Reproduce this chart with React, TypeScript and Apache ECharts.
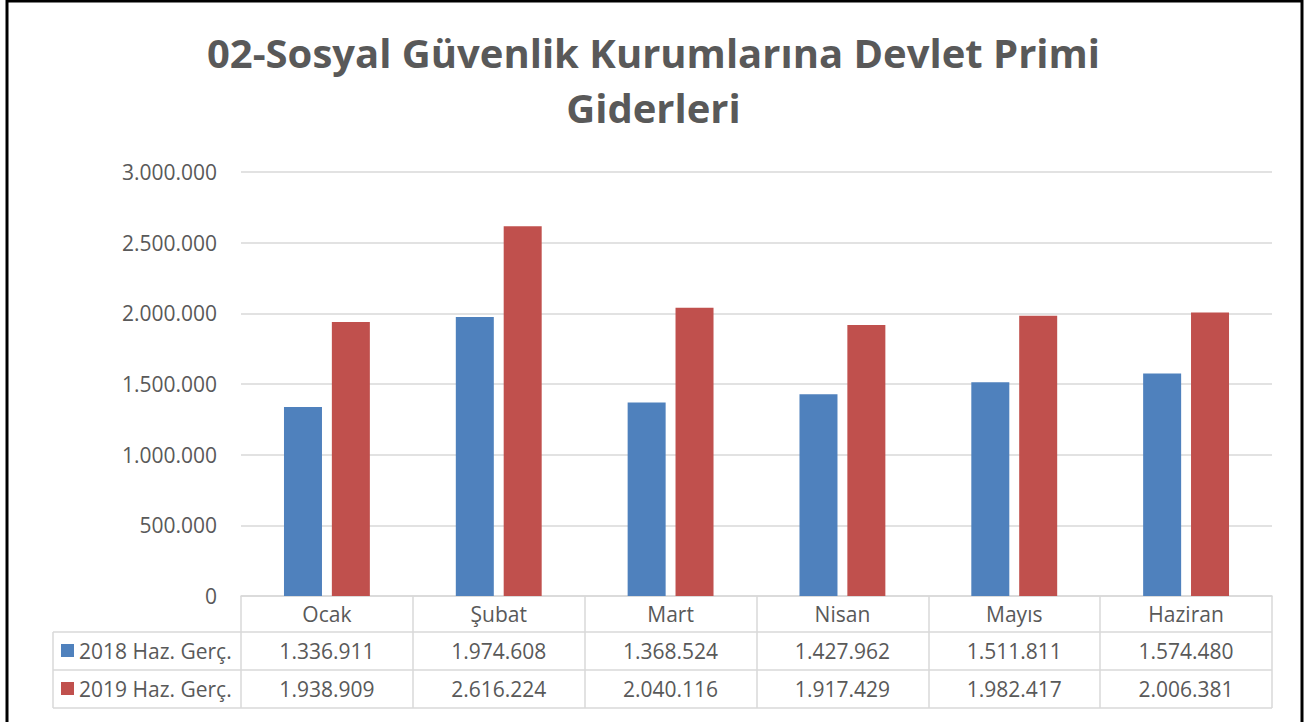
import React, { useEffect, useRef } from "react";
import * as echarts from "echarts";

const categories = ["Ocak", "Şubat", "Mart", "Nisan", "Mayıs", "Haziran"];
const series2018 = [1336911, 1974608, 1368524, 1427962, 1511811, 1574480];
const series2019 = [1938909, 2616224, 2040116, 1917429, 1982417, 2006381];
const seriesNames = ["2018 Haz. Gerç.", "2019 Haz. Gerç."];
const titleText = "02-Sosyal Güvenlik Kurumlarına Devlet Primi\nGiderleri";

const fmt = (n: number) => String(n).replace(/\B(?=(\d{3})+(?!\d))/g, ".");

const TEXT = "#595959";
const LINE = "#d9d9d9";
const FONT = "'Open Sans', 'Noto Sans', sans-serif";

export default function App() {
  const ref = useRef<HTMLDivElement>(null);
  useEffect(() => {
    if (!ref.current) return;
    const chart = echarts.init(ref.current, undefined, { renderer: "svg" });
    const labelStyle = { color: TEXT, fontSize: 21, fontFamily: FONT };
    const option: any = {
      animation: false,
      backgroundColor: "#ffffff",
      textStyle: { fontFamily: FONT },
      title: {
        text: titleText,
        left: "center",
        top: 20,
        textStyle: { color: TEXT, fontSize: 40, fontWeight: "bold", lineHeight: 55, fontFamily: FONT },
      },
      legend: {
        orient: "vertical",
        left: 61,
        top: 638,
        padding: 0,
        itemWidth: 13,
        itemHeight: 13,
        itemGap: 13,
        icon: "rect",
        textStyle: { color: TEXT, fontSize: 21, lineHeight: 25, fontFamily: FONT },
        data: seriesNames,
      },
      grid: { left: 241, right: 35, top: 172, bottom: 126 },
      xAxis: [
        {
          type: "category",
          data: categories,
          position: "bottom",
          axisLine: { show: true, lineStyle: { color: LINE, width: 1.5 } },
          axisTick: { show: true, length: 112, interval: 0, lineStyle: { color: LINE, width: 1.5 } },
          axisLabel: { ...labelStyle, margin: 7, interval: 0 },
        },
        {
          type: "category",
          data: series2018.map(fmt),
          position: "bottom",
          offset: 36,
          axisLine: { show: false },
          axisTick: { show: false },
          axisLabel: { ...labelStyle, margin: 8, interval: 0 },
        },
        {
          type: "category",
          data: series2019.map(fmt),
          position: "bottom",
          offset: 74,
          axisLine: { show: false },
          axisTick: { show: false },
          axisLabel: { ...labelStyle, margin: 8, interval: 0 },
        },
      ],
      yAxis: {
        type: "value",
        min: 0,
        max: 3000000,
        interval: 500000,
        axisLine: { show: false },
        axisTick: { show: false },
        splitLine: { lineStyle: { color: LINE, width: 1.5 } },
        axisLabel: { ...labelStyle, margin: 24, formatter: (v: number) => fmt(v) },
      },
      series: [
        {
          name: seriesNames[0],
          type: "bar",
          data: series2018,
          itemStyle: { color: "#4F81BD" },
          barWidth: 38,
          barGap: "26%",
        },
        {
          name: seriesNames[1],
          type: "bar",
          data: series2019,
          itemStyle: { color: "#C0504D" },
          barWidth: 38,
          barGap: "26%",
        },
      ],
      graphic: [
        { type: "line", shape: { x1: 53, y1: 632, x2: 1272, y2: 632 }, style: { stroke: LINE, lineWidth: 1.5 } },
        { type: "line", shape: { x1: 53, y1: 670, x2: 1272, y2: 670 }, style: { stroke: LINE, lineWidth: 1.5 } },
        { type: "line", shape: { x1: 53, y1: 708, x2: 1272, y2: 708 }, style: { stroke: LINE, lineWidth: 1.5 } },
        { type: "line", shape: { x1: 53, y1: 632, x2: 53, y2: 708 }, style: { stroke: LINE, lineWidth: 1.5 } },
        {
          type: "polyline",
          shape: { points: [[7, 740], [7, 1], [1302, 1], [1302, 740]] },
          style: { stroke: "#000000", lineWidth: 3, fill: null },
        },
      ],
    };
    chart.setOption(option);
    return () => chart.dispose();
  }, []);
  return (
    <div
      ref={ref}
      style={{ position: "fixed", left: 0, top: 0, width: 1307, height: 722, background: "#fff" }}
    />
  );
}
